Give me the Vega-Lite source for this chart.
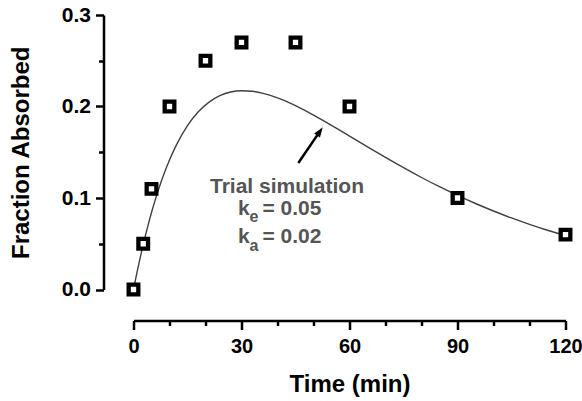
{
  "$schema": "https://vega.github.io/schema/vega-lite/v6.json",
  "width": 432,
  "height": 274.5,
  "autosize": "none",
  "padding": {"left": 133.5, "top": 15, "right": 16.5, "bottom": 111.5},
  "background": "white",
  "config": {
    "view": {"stroke": null},
    "axis": {
      "grid": false,
      "labelFont": "Liberation Sans",
      "labelFontWeight": "bold",
      "labelFontSize": 21,
      "labelColor": "black",
      "titleFont": "Liberation Sans",
      "titleFontWeight": "bold",
      "titleFontSize": 24,
      "titleColor": "black",
      "domainColor": "black",
      "tickColor": "black",
      "domainWidth": 2.5,
      "tickWidth": 2.5
    }
  },
  "datasets": {
    "obs": [
      {"t": 0, "f": 0},
      {"t": 2.7, "f": 0.05},
      {"t": 5, "f": 0.11},
      {"t": 10, "f": 0.2},
      {"t": 20, "f": 0.25},
      {"t": 30, "f": 0.27},
      {"t": 45, "f": 0.27},
      {"t": 60, "f": 0.2},
      {"t": 90, "f": 0.1},
      {"t": 120, "f": 0.06}
    ],
    "sim": [
      {"t": 0, "f": 0}, {"t": 1, "f": 0.0193}, {"t": 2, "f": 0.0373}, {"t": 3, "f": 0.0541},
      {"t": 4, "f": 0.0696}, {"t": 5, "f": 0.0841}, {"t": 6, "f": 0.0974}, {"t": 7, "f": 0.1098},
      {"t": 8, "f": 0.1213}, {"t": 10, "f": 0.1415}, {"t": 12, "f": 0.1586}, {"t": 15, "f": 0.1791},
      {"t": 18, "f": 0.1942}, {"t": 21, "f": 0.2048}, {"t": 24, "f": 0.2118}, {"t": 27, "f": 0.2158},
      {"t": 30, "f": 0.2172}, {"t": 33, "f": 0.2166}, {"t": 36, "f": 0.2144}, {"t": 40, "f": 0.2094},
      {"t": 45, "f": 0.2009}, {"t": 50, "f": 0.1906}, {"t": 55, "f": 0.1794}, {"t": 60, "f": 0.1677},
      {"t": 65, "f": 0.1559}, {"t": 70, "f": 0.1443}, {"t": 75, "f": 0.1331}, {"t": 80, "f": 0.1224},
      {"t": 85, "f": 0.1123}, {"t": 90, "f": 0.1028}, {"t": 95, "f": 0.094}, {"t": 100, "f": 0.0858},
      {"t": 105, "f": 0.0782}, {"t": 110, "f": 0.0712}, {"t": 115, "f": 0.0648}, {"t": 120, "f": 0.0589}
    ]
  },
  "resolve": {"axis": {"x": "independent", "y": "independent"}},
  "layer": [
    {
      "data": {"name": "sim"},
      "mark": {"type": "line", "color": "#404040", "strokeWidth": 1.4, "interpolate": "monotone", "clip": false},
      "encoding": {
        "x": {"field": "t", "type": "quantitative", "scale": {"domain": [0, 120], "nice": false, "zero": false},
          "axis": {"orient": "bottom", "title": "Time (min)", "values": [0, 30, 60, 90, 120], "offset": 31, "tickSize": 9, "labelFontSize": 20, "labelPadding": 7, "titlePadding": 16, "labelFlush": false}},
        "y": {"field": "f", "type": "quantitative", "scale": {"domain": [0, 0.3], "nice": false, "zero": false},
          "axis": {"orient": "left", "title": "Fraction Absorbed", "values": [0, 0.1, 0.2, 0.3], "format": ".1f", "offset": 30, "tickSize": 8, "labelPadding": 5, "titlePadding": 28, "labelFlush": false}}
      }
    },
    {
      "data": {"name": "obs"},
      "mark": {"type": "point", "opacity": 0},
      "encoding": {
        "x": {"field": "t", "type": "quantitative",
          "axis": {"orient": "bottom", "title": null, "labels": false, "domain": false, "values": [10, 20, 40, 50, 70, 80, 100, 110], "offset": 31, "tickSize": 5}},
        "y": {"field": "f", "type": "quantitative",
          "axis": {"orient": "left", "title": null, "labels": false, "domain": false, "values": [0.05, 0.15, 0.25], "offset": 30, "tickSize": 5}}
      }
    },
    {
      "data": {"name": "obs"},
      "mark": {"type": "point", "shape": "square", "size": 93, "filled": false, "fill": "white", "fillOpacity": 1, "stroke": "black", "strokeWidth": 4.3, "opacity": 1, "clip": false},
      "encoding": {
        "x": {"field": "t", "type": "quantitative", "axis": null},
        "y": {"field": "f", "type": "quantitative", "axis": null}
      }
    },
    {
      "data": {"values": [{}]},
      "mark": {"type": "rule", "color": "black", "strokeWidth": 2.5},
      "encoding": {
        "x": {"datum": 45.78, "type": "quantitative", "axis": null},
        "y": {"datum": 0.1383, "type": "quantitative", "axis": null},
        "x2": {"datum": 51.78},
        "y2": {"datum": 0.1728}
      }
    },
    {
      "data": {"values": [{}]},
      "mark": {"type": "point", "shape": "M0,-1L-0.7,1L0.7,1Z", "size": 100, "filled": true, "color": "black", "opacity": 1, "angle": 34.4},
      "encoding": {
        "x": {"datum": 51.78, "type": "quantitative", "axis": null},
        "y": {"datum": 0.1728, "type": "quantitative", "axis": null}
      }
    },
    {
      "data": {"values": [{}]},
      "mark": {"type": "text", "text": "Trial simulation", "font": "Liberation Sans", "fontWeight": "bold", "fontSize": 21, "color": "#555555", "align": "center", "baseline": "alphabetic"},
      "encoding": {
        "x": {"datum": 42.64, "type": "quantitative", "axis": null},
        "y": {"datum": 0.1058, "type": "quantitative", "axis": null}
      }
    },
    {
      "data": {"values": [{}]},
      "mark": {"type": "text", "text": "k", "font": "Liberation Sans", "fontWeight": "bold", "fontSize": 21, "color": "#555555", "align": "left", "baseline": "alphabetic"},
      "encoding": {
        "x": {"datum": 29.03, "type": "quantitative", "axis": null},
        "y": {"datum": 0.0814, "type": "quantitative", "axis": null}
      }
    },
    {
      "data": {"values": [{}]},
      "mark": {"type": "text", "text": "e", "font": "Liberation Sans", "fontWeight": "bold", "fontSize": 16, "color": "#555555", "align": "left", "baseline": "alphabetic"},
      "encoding": {
        "x": {"datum": 32.2, "type": "quantitative", "axis": null},
        "y": {"datum": 0.0738, "type": "quantitative", "axis": null}
      }
    },
    {
      "data": {"values": [{}]},
      "mark": {"type": "text", "text": "= 0.05", "font": "Liberation Sans", "fontWeight": "bold", "fontSize": 21, "color": "#555555", "align": "left", "baseline": "alphabetic"},
      "encoding": {
        "x": {"datum": 35.8, "type": "quantitative", "axis": null},
        "y": {"datum": 0.0814, "type": "quantitative", "axis": null}
      }
    },
    {
      "data": {"values": [{}]},
      "mark": {"type": "text", "text": "k", "font": "Liberation Sans", "fontWeight": "bold", "fontSize": 21, "color": "#555555", "align": "left", "baseline": "alphabetic"},
      "encoding": {
        "x": {"datum": 29.03, "type": "quantitative", "axis": null},
        "y": {"datum": 0.0511, "type": "quantitative", "axis": null}
      }
    },
    {
      "data": {"values": [{}]},
      "mark": {"type": "text", "text": "a", "font": "Liberation Sans", "fontWeight": "bold", "fontSize": 16, "color": "#555555", "align": "left", "baseline": "alphabetic"},
      "encoding": {
        "x": {"datum": 32.2, "type": "quantitative", "axis": null},
        "y": {"datum": 0.0424, "type": "quantitative", "axis": null}
      }
    },
    {
      "data": {"values": [{}]},
      "mark": {"type": "text", "text": "= 0.02", "font": "Liberation Sans", "fontWeight": "bold", "fontSize": 21, "color": "#555555", "align": "left", "baseline": "alphabetic"},
      "encoding": {
        "x": {"datum": 35.8, "type": "quantitative", "axis": null},
        "y": {"datum": 0.0511, "type": "quantitative", "axis": null}
      }
    }
  ]
}
